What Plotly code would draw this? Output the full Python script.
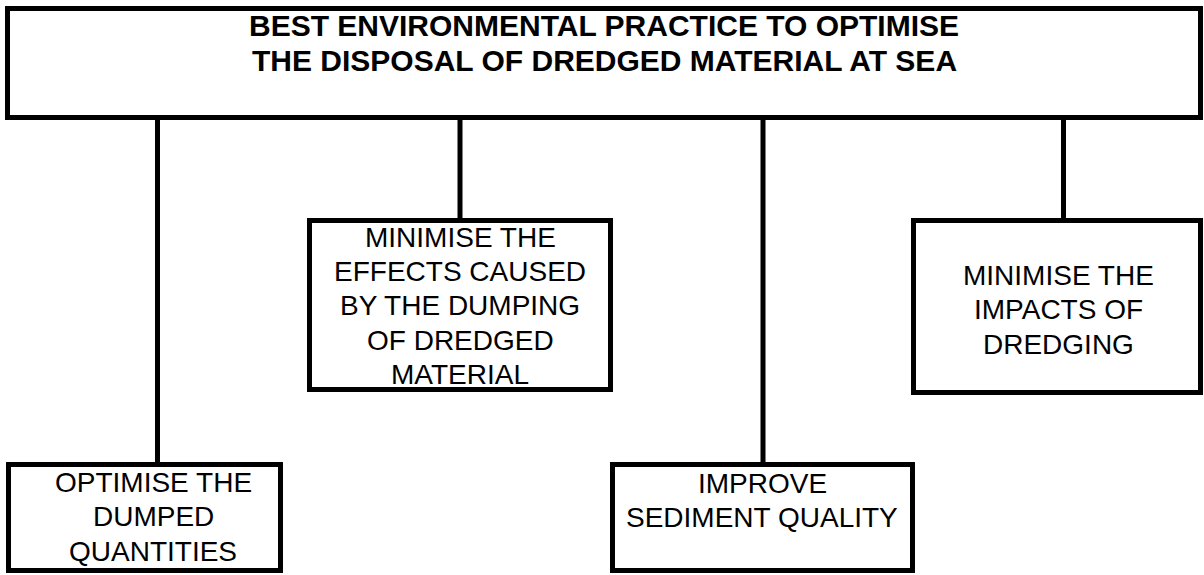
import plotly.graph_objects as go

# ---- content ----
title_lines = ["BEST ENVIRONMENTAL PRACTICE TO OPTIMISE",
               "THE DISPOSAL OF DREDGED MATERIAL AT SEA"]
box1_lines = ["OPTIMISE THE", "DUMPED", "QUANTITIES"]
box2_lines = ["MINIMISE THE", "EFFECTS CAUSED", "BY THE DUMPING", "OF DREDGED", "MATERIAL"]
box3_lines = ["IMPROVE", "SEDIMENT QUALITY"]
box4_lines = ["MINIMISE THE", "IMPACTS OF", "DREDGING"]

# ---- layout geometry (pixels) ----
W, H = 1204, 575
LW = 5
top_box = dict(x0=7.5, y0=8.5, x1=1200.5, y1=117.5)
boxes = [
    dict(x0=8.5, y0=464.5, x1=280.5, y1=570.5),    # box1
    dict(x0=309.5, y0=220.5, x1=610.5, y1=389.5),  # box2
    dict(x0=612.5, y0=464.5, x1=912.5, y1=570.5),  # box3
    dict(x0=913.5, y0=220.5, x1=1200.5, y1=392.5), # box4
]
connector_x = [157.5, 460, 763, 1063.5]
text_cx = [153, 460, 762, 1058]
text_first_y = [482.5, 237.3, 483.5, 275.5]
line_gap = 34.3
box_texts = [box1_lines, box2_lines, box3_lines, box4_lines]

fig = go.Figure()
shapes = []
shapes.append(dict(type="rect", xref="x", yref="y", **top_box,
                   line=dict(color="black", width=LW), fillcolor="rgba(0,0,0,0)"))
for b, cx in zip(boxes, connector_x):
    shapes.append(dict(type="line", xref="x", yref="y", x0=cx, x1=cx,
                       y0=top_box["y1"], y1=b["y0"],
                       line=dict(color="black", width=LW)))
for b in boxes:
    shapes.append(dict(type="rect", xref="x", yref="y", **b,
                       line=dict(color="black", width=LW), fillcolor="rgba(0,0,0,0)"))

annotations = []
title_cx = (top_box["x0"] + top_box["x1"]) / 2
for i, t in enumerate(title_lines):
    annotations.append(dict(x=title_cx, y=25.5 + i * 34.5, xref="x", yref="y", text="<b>%s</b>" % t,
                            showarrow=False, xanchor="center", yanchor="middle",
                            font=dict(family="Liberation Sans, Arial", size=30, color="black")))
for lines, cx, fy in zip(box_texts, text_cx, text_first_y):
    for i, t in enumerate(lines):
        annotations.append(dict(x=cx, y=fy + i * line_gap, xref="x", yref="y", text=t,
                                showarrow=False, xanchor="center", yanchor="middle",
                                font=dict(family="Liberation Sans, Arial", size=28, color="black")))

fig.update_layout(
    width=W, height=H, margin=dict(l=0, r=0, t=0, b=0, pad=0),
    paper_bgcolor="white", plot_bgcolor="white",
    xaxis=dict(range=[0, W], visible=False, fixedrange=True),
    yaxis=dict(range=[H, 0], visible=False, fixedrange=True),
    shapes=shapes, annotations=annotations, showlegend=False,
)

fig.write_html("out.html", config={"displayModeBar": False},
               post_script="document.body.style.margin='0px';document.body.style.overflow='hidden';")
